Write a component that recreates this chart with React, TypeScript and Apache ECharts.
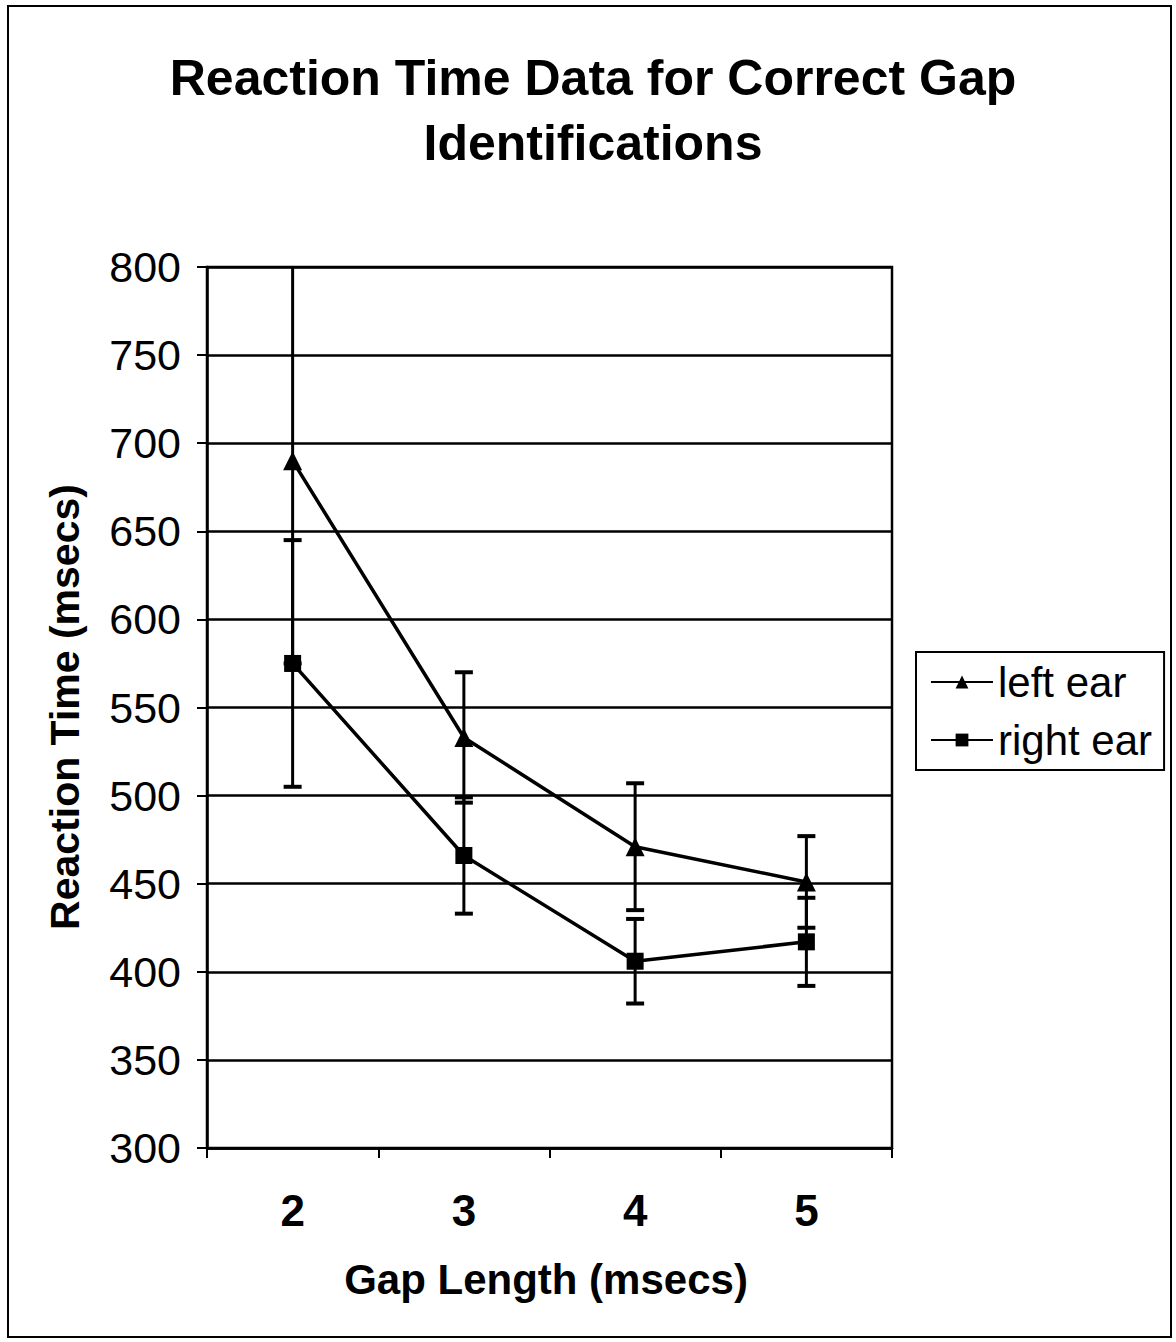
import React, { useEffect, useRef } from "react";
import * as echarts from "echarts";

const categories = ["2", "3", "4", "5"];
const leftEar = [690, 533, 471, 451];
const leftErr = [115, 37, 36, 26];
const rightEar = [575, 466, 406, 417];
const rightErr = [70, 33, 24, 25];
const yTicks = { min: 300, max: 800, interval: 50 };

const FONT = "'Liberation Sans', Arial, sans-serif";

function errData(vals: number[], errs: number[]) {
  return vals.map((v, i) => [i, v - errs[i], v + errs[i]]);
}

function renderErr(params: any, api: any) {
  const idx = api.value(0);
  const pLow = api.coord([idx, api.value(1)]);
  const pHigh = api.coord([idx, api.value(2)]);
  const cs = params.coordSys;
  let top = pHigh[1];
  let topCap = true;
  if (top < cs.y) {
    top = cs.y;
    topCap = false;
  }
  let bottom = pLow[1];
  let botCap = true;
  if (bottom > cs.y + cs.height) {
    bottom = cs.y + cs.height;
    botCap = false;
  }
  const x = pLow[0];
  const hw = 9;
  const style = { stroke: "#000", lineWidth: 3 };
  const capStyle = { stroke: "#000", lineWidth: 4 };
  const children: any[] = [
    { type: "line", shape: { x1: x, y1: top, x2: x, y2: bottom }, style },
  ];
  if (topCap)
    children.push({ type: "line", shape: { x1: x - hw, y1: top, x2: x + hw, y2: top }, style: capStyle });
  if (botCap)
    children.push({ type: "line", shape: { x1: x - hw, y1: bottom, x2: x + hw, y2: bottom }, style: capStyle });
  return { type: "group", children };
}

export default function App() {
  const ref = useRef<HTMLDivElement>(null);
  useEffect(() => {
    if (!ref.current) return;
    const chart = echarts.init(ref.current, null, { renderer: "svg" });
    chart.setOption({
      animation: false,
      backgroundColor: "#fff",
      textStyle: { fontFamily: FONT, color: "#000" },
      graphic: [
        {
          type: "rect",
          shape: { x: 8, y: 6, width: 1163, height: 1331 },
          style: { fill: "none", stroke: "#000", lineWidth: 2 },
          z: -1,
        },
        {
          type: "text",
          x: 593,
          y: 78,
          style: {
            text: "Reaction Time Data for Correct Gap",
            font: `bold 50px ${FONT}`,
            fill: "#000",
            textAlign: "center",
            textVerticalAlign: "middle",
          },
        },
        {
          type: "text",
          x: 593,
          y: 143,
          style: {
            text: "Identifications",
            font: `bold 50px ${FONT}`,
            fill: "#000",
            textAlign: "center",
            textVerticalAlign: "middle",
          },
        },
        {
          type: "text",
          x: 546,
          y: 1279,
          style: {
            text: "Gap Length (msecs)",
            font: `bold 42px ${FONT}`,
            fill: "#000",
            textAlign: "center",
            textVerticalAlign: "middle",
          },
        },
        {
          type: "text",
          x: 65,
          y: 707,
          rotation: Math.PI / 2,
          style: {
            text: "Reaction Time (msecs)",
            font: `bold 41px ${FONT}`,
            fill: "#000",
            textAlign: "center",
            textVerticalAlign: "middle",
          },
        },
      ],
      grid: {
        left: 207,
        top: 267,
        width: 685,
        height: 881,
        show: true,
        borderColor: "#000",
        borderWidth: 2.5,
        backgroundColor: "transparent",
      },
      legend: {
        orient: "vertical",
        left: 916,
        top: 652,
        padding: [8, 12, 8, 14],
        itemGap: 14,
        itemWidth: 62,
        itemHeight: 16,
        borderColor: "#000",
        borderWidth: 2,
        textStyle: { fontSize: 42, lineHeight: 44, color: "#000", fontFamily: FONT },
        data: ["left ear", "right ear"],
      },
      xAxis: {
        type: "category",
        data: categories,
        boundaryGap: true,
        axisLine: { lineStyle: { color: "#000", width: 2.5 } },
        axisTick: { show: true, length: 10, lineStyle: { color: "#000", width: 2 } },
        axisLabel: { fontSize: 44, fontWeight: "bold", color: "#000", margin: 40, fontFamily: FONT },
        splitLine: { show: false },
      },
      yAxis: {
        type: "value",
        min: yTicks.min,
        max: yTicks.max,
        interval: yTicks.interval,
        axisLine: { show: true, lineStyle: { color: "#000", width: 2.5 } },
        axisTick: { show: true, length: 10, lineStyle: { color: "#000", width: 2 } },
        axisLabel: { fontSize: 43, color: "#000", margin: 26, fontFamily: FONT },
        splitLine: { show: true, lineStyle: { color: "#000", width: 2.5 } },
      },
      series: [
        {
          name: "left ear",
          type: "line",
          data: leftEar,
          symbol: "triangle",
          symbolSize: 19,
          itemStyle: { color: "#000" },
          lineStyle: { color: "#000", width: 3.5 },
          z: 3,
        },
        {
          name: "right ear",
          type: "line",
          data: rightEar,
          symbol: "rect",
          symbolSize: 17,
          itemStyle: { color: "#000" },
          lineStyle: { color: "#000", width: 3.5 },
          z: 3,
        },
        {
          type: "custom",
          name: "left err",
          data: errData(leftEar, leftErr),
          renderItem: renderErr,
          encode: { x: 0, y: [1, 2] },
          z: 2,
        },
        {
          type: "custom",
          name: "right err",
          data: errData(rightEar, rightErr),
          renderItem: renderErr,
          encode: { x: 0, y: [1, 2] },
          z: 2,
        },
      ],
    });
    return () => chart.dispose();
  }, []);
  return (
    <div
      ref={ref}
      style={{ position: "absolute", left: 0, top: 0, width: 1176, height: 1342 }}
    />
  );
}
